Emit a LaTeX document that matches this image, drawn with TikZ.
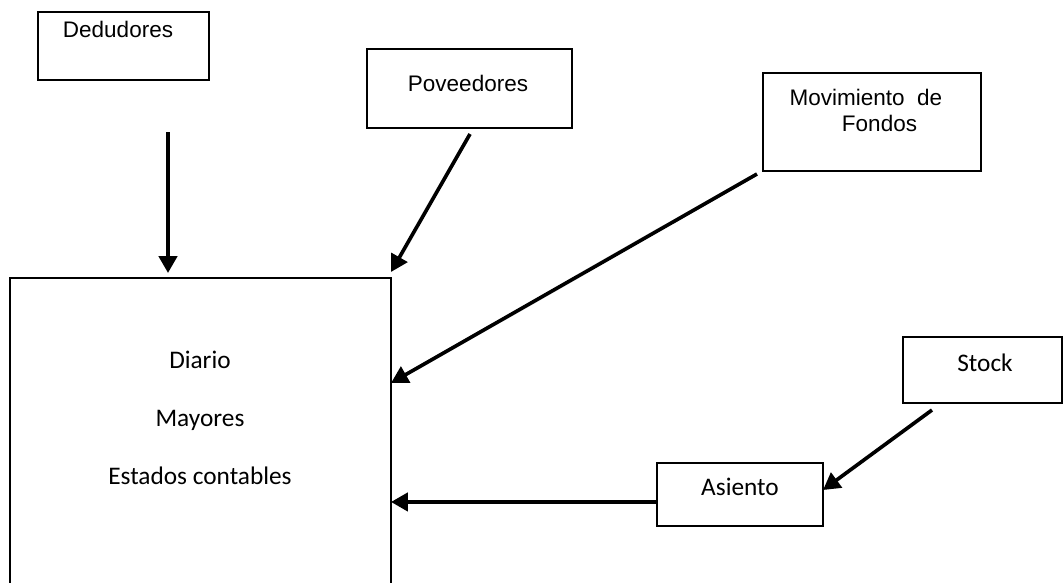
\documentclass[tikz,border=0pt]{standalone}
\usepackage{fontspec}
\setmainfont{Liberation Sans}
\newfontfamily\carlito{Carlito}
\usetikzlibrary{arrows.meta,positioning,calc}

\begin{document}
\begin{tikzpicture}[x=0.025cm, y=-0.025cm,
    box/.style={rectangle, draw, line width=1.3pt, inner sep=0pt, outer sep=0pt},
    arr/.style={-{Triangle[length=12pt,width=13pt]}, line width=2.6pt},
    lbl/.style={font=\fontsize{16}{18.5}\selectfont},
    lblc/.style={font=\carlito\fontsize{18}{41}\selectfont}]
      \clip (0,0) rectangle (1064,583);

      \node[box, minimum width=4.275cm, minimum height=1.7cm] (ded) at (123.5,46) {};
      \node[box, minimum width=5.125cm, minimum height=1.975cm] (pov) at (469.5,88.5) {};
      \node[box, minimum width=5.45cm, minimum height=2.45cm] (mov) at (872,122) {};
      \node[box, minimum width=9.525cm, minimum height=8.05cm] (main) at (200.5,439) {};
      \node[box, minimum width=3.975cm, minimum height=1.65cm] (stock) at (982.5,370) {};
      \node[box, minimum width=4.15cm, minimum height=1.575cm] (as) at (740,494.5) {};

      \node[lbl] (dedtxt) at (118,29) {Dedudores};
      \node[lbl] (povtxt) at (468,83) {Poveedores};
      \node[lbl, align=center] (movtxt) at (866,110) {Movimiento\ \ de\\ \hspace*{1.2em}Fondos};
      \node[lblc, align=center] (maintxt) at (200,418) {Diario\\ Mayores\\ Estados contables};
      \node[lblc] (stocktxt) at (985,363) {Stock};
      \node[lblc] (astxt) at (740,487) {Asiento};

      \draw[arr] ($(ded.south)+(44.5,52)$) -- ($(main.north)+(-32.5,-5)$);
      \draw[arr] ($(pov.south)+(0.5,6)$) -- ($(main.north east)+(0,-6)$);
      \draw[arr] ($(mov.south west)+(-6,3)$) -- ($(main.north east)+(0,105)$);
      \draw[arr] ($(stock.south)+(-50.5,7)$) -- ($(as.east)+(0,-4.5)$);
      \draw[arr] ($(as.west)+(0,7.5)$) -- ($(main.north east)+(0,224)$);
\end{tikzpicture}
\end{document}
